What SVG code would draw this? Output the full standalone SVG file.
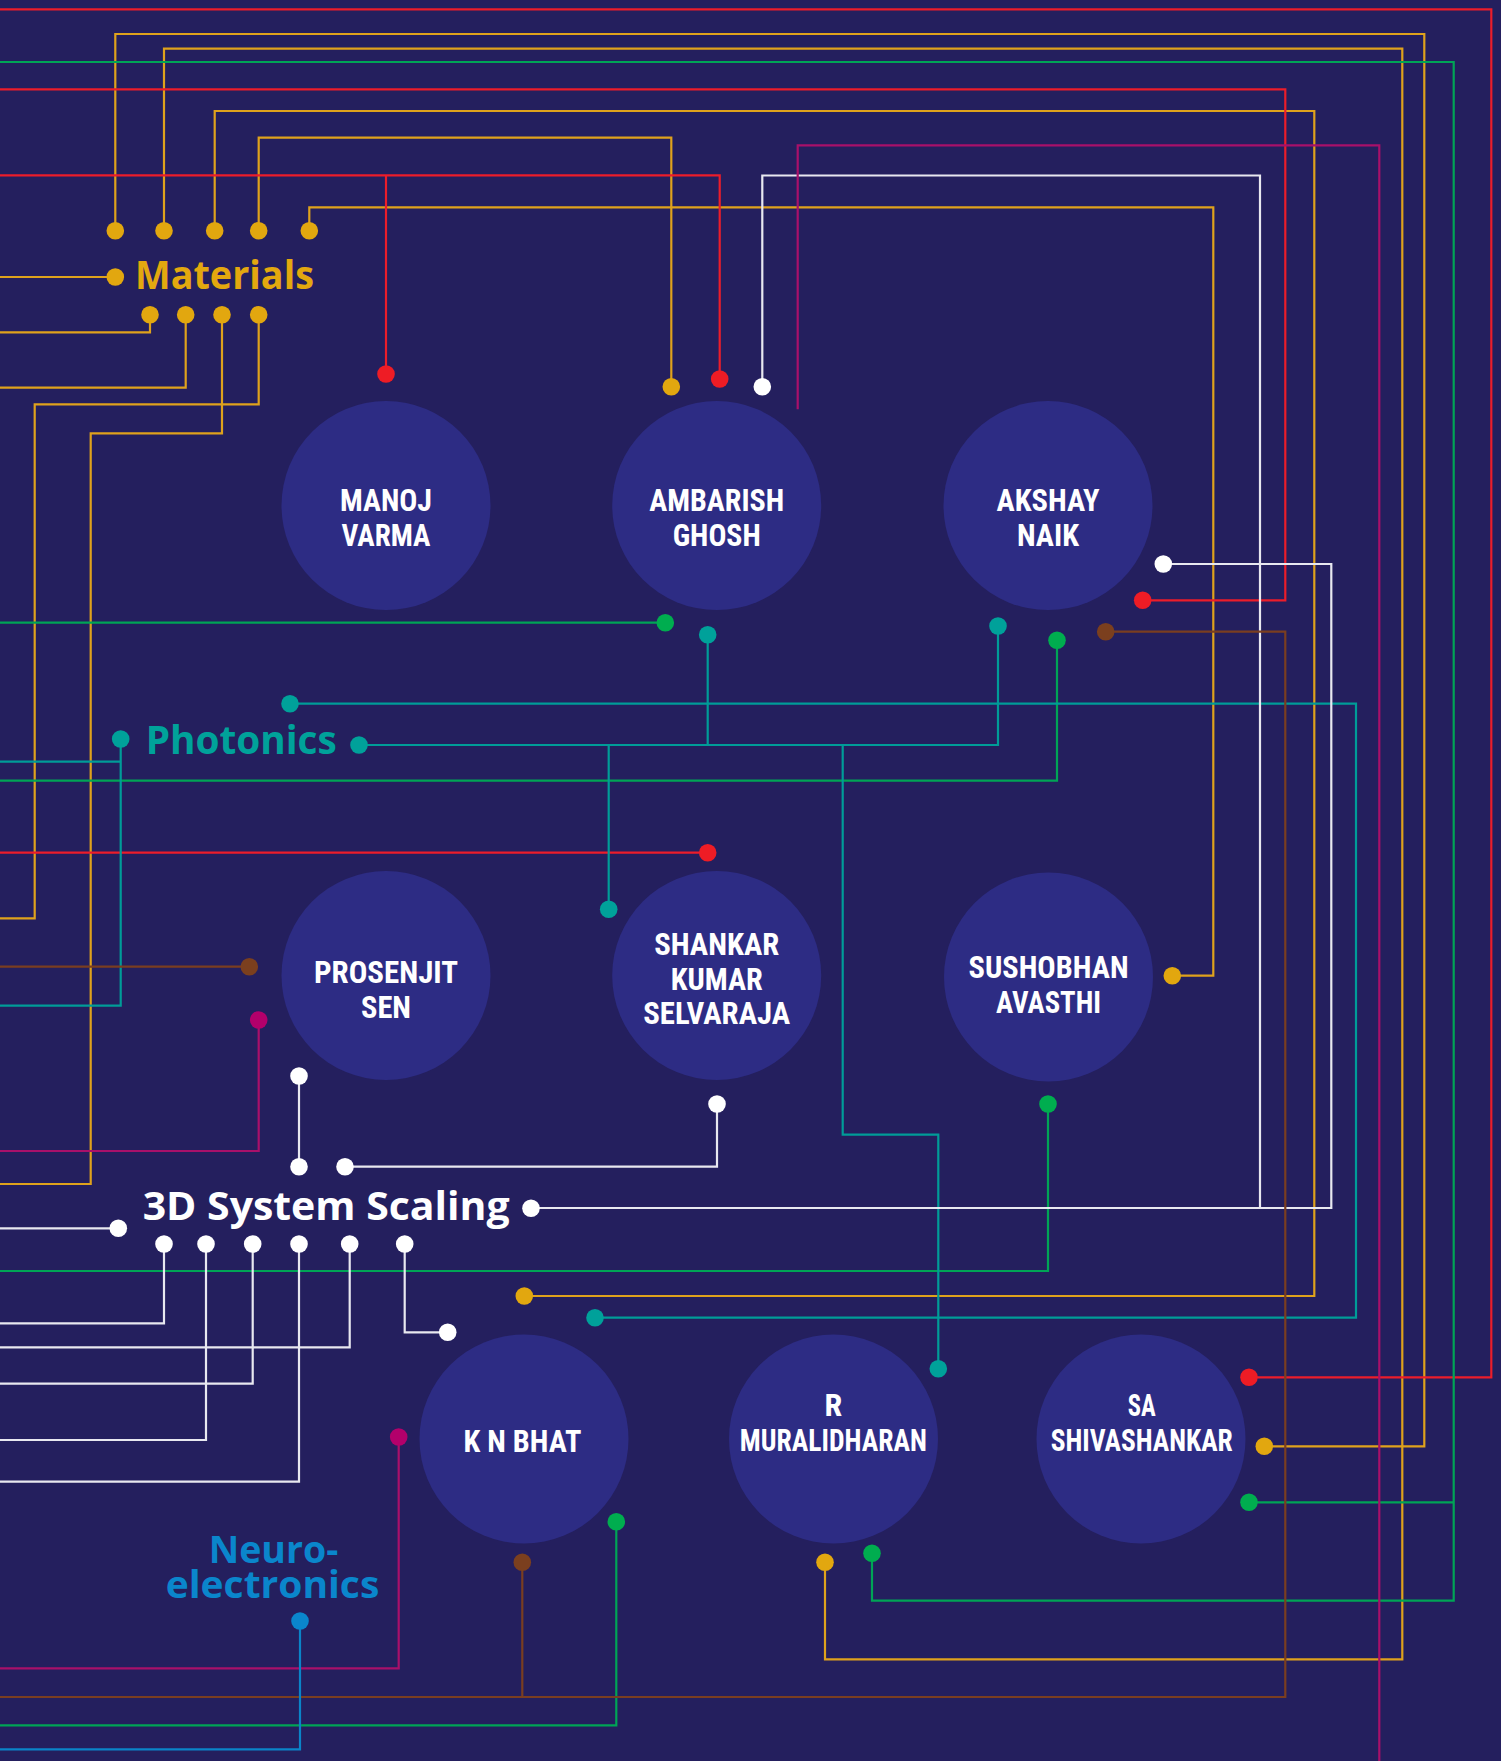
<svg xmlns="http://www.w3.org/2000/svg" width="1501" height="1761" viewBox="0 0 1501 1761">
<style>
.ln{fill:none;stroke-width:2.2;stroke-linejoin:miter}
.gold{stroke:#dfa21c}.red{stroke:#ec1d2a}.grn{stroke:#00a456}.teal{stroke:#009c98}.wht{stroke:#e8e8f0}.mag{stroke:#a8106a}.brn{stroke:#7a3e20}.blu{stroke:#0a84c8}
.dg{fill:#e2a70f}.dr{fill:#ee1c25}.dn{fill:#00ad4f}.dt{fill:#00a19a}.dw{fill:#ffffff}.dm{fill:#b3006b}.db{fill:#7b3f1e}.dl{fill:#0a86cc}
.node circle{fill:#2d2c84}
.name{font-family:"Liberation Sans Narrow","Roboto Condensed","Liberation Sans",Arial,sans-serif;font-weight:bold;font-size:32px;fill:#ffffff;text-anchor:middle}
.lab{font-family:"Open Sans","Noto Sans","Liberation Sans",sans-serif;font-weight:700;font-size:40px}
.lab2{font-family:"Open Sans","Noto Sans","Liberation Sans",sans-serif;font-weight:700;font-size:38px}
</style>
<rect x="0" y="0" width="1501" height="1761" fill="#241f5e"/>
<g id="connectors">
  <!-- gold -->
  <path class="ln gold" d="M115.3 230.7V34H1424.3V1446.3H1264.3"/>
  <path class="ln gold" d="M164 230.7V48.7H1402.3V1659.3H825V1562.3"/>
  <path class="ln gold" d="M214.7 230.7V111H1314.3V1296H524.3"/>
  <path class="ln gold" d="M258.7 230.7V137.7H671.3V386.7"/>
  <path class="ln gold" d="M309.3 230.7V207.3H1213.3V975.7H1172.3"/>
  <path class="ln gold" d="M0 277H115.3"/>
  <path class="ln gold" d="M150 314.7V332.3H0"/>
  <path class="ln gold" d="M185.7 314.7V387.7H0"/>
  <path class="ln gold" d="M258.7 314.7V404.3H34.7V918.3H0"/>
  <path class="ln gold" d="M222 314.7V433.3H90.7V1184H0"/>
  <!-- red -->
  <path class="ln red" d="M0 9.3H1491.3V1377.3H1249"/>
  <path class="ln red" d="M0 89.3H1285.3V600.3H1142.7"/>
  <path class="ln red" d="M0 175.3H719.7V379"/>
  <path class="ln red" d="M386 175.3V374"/>
  <path class="ln red" d="M0 852.7H707.7"/>
  <!-- green -->
  <path class="ln grn" d="M0 62H1453.7V1600.7H872V1553.3"/>
  <path class="ln grn" d="M1249 1502.3H1453.7"/>
  <path class="ln grn" d="M0 622.7H665.3"/>
  <path class="ln grn" d="M1057 640.3V780.7H0"/>
  <path class="ln grn" d="M1048 1104V1271H0"/>
  <path class="ln grn" d="M616.3 1521.7V1725.3H0"/>
  <!-- teal -->
  <path class="ln teal" d="M290 703.7H1356V1317.7H595"/>
  <path class="ln teal" d="M359 745H998V626"/>
  <path class="ln teal" d="M707.7 634.7V745"/>
  <path class="ln teal" d="M608.7 745V909.3"/>
  <path class="ln teal" d="M842.7 745V1134.7H938.3V1368.7"/>
  <path class="ln teal" d="M120.7 739V1005.7H0"/>
  <path class="ln teal" d="M0 761.7H120.7"/>
  <!-- white -->
  <path class="ln wht" d="M762.3 386.7V175.5H1260V1208"/>
  <path class="ln wht" d="M1163.3 564H1331.3V1208H531"/>
  <path class="ln wht" d="M299 1076V1166.7"/>
  <path class="ln wht" d="M345 1166.7H717V1104"/>
  <path class="ln wht" d="M118.3 1228.3H0"/>
  <path class="ln wht" d="M164 1244V1323.3H0"/>
  <path class="ln wht" d="M206 1244V1440H0"/>
  <path class="ln wht" d="M252.7 1244V1383.7H0"/>
  <path class="ln wht" d="M299 1244V1481.7H0"/>
  <path class="ln wht" d="M349.7 1244V1347.3H0"/>
  <path class="ln wht" d="M404.7 1244V1332.3H447.7"/>
  <!-- magenta -->
  <path class="ln mag" d="M797.7 409.3V145.3H1379.3V1761"/>
  <path class="ln mag" d="M258.7 1020V1151H0"/>
  <path class="ln mag" d="M398.7 1437V1668.3H0"/>
  <!-- brown -->
  <path class="ln brn" d="M1105.7 631.7H1285.3V1697H0"/>
  <path class="ln brn" d="M522.3 1562.3V1697"/>
  <path class="ln brn" d="M249.3 966.7H0"/>
  <!-- blue -->
  <path class="ln blu" d="M300 1621V1749.3H0"/>
  <!-- dots -->
  <g class="dg">
    <circle cx="115.3" cy="230.7" r="8.8"/><circle cx="164" cy="230.7" r="8.8"/><circle cx="214.7" cy="230.7" r="8.8"/><circle cx="258.7" cy="230.7" r="8.8"/><circle cx="309.3" cy="230.7" r="8.8"/>
    <circle cx="115.3" cy="277" r="8.8"/>
    <circle cx="150" cy="314.7" r="8.8"/><circle cx="185.7" cy="314.7" r="8.8"/><circle cx="222" cy="314.7" r="8.8"/><circle cx="258.7" cy="314.7" r="8.8"/>
    <circle cx="671.3" cy="386.7" r="8.8"/><circle cx="1172.3" cy="975.7" r="8.8"/><circle cx="524.3" cy="1296" r="8.8"/><circle cx="825" cy="1562.3" r="8.8"/><circle cx="1264.3" cy="1446.3" r="8.8"/>
  </g>
  <g class="dr">
    <circle cx="386" cy="374" r="8.8"/><circle cx="719.7" cy="379" r="8.8"/><circle cx="1142.7" cy="600.3" r="8.8"/><circle cx="707.7" cy="852.7" r="8.8"/><circle cx="1249" cy="1377.3" r="8.8"/>
  </g>
  <g class="dn">
    <circle cx="665.3" cy="622.7" r="8.8"/><circle cx="1057" cy="640.3" r="8.8"/><circle cx="1048" cy="1104" r="8.8"/><circle cx="616.3" cy="1521.7" r="8.8"/><circle cx="872" cy="1553.3" r="8.8"/><circle cx="1249" cy="1502.3" r="8.8"/>
  </g>
  <g class="dt">
    <circle cx="290" cy="703.7" r="8.8"/><circle cx="120.7" cy="739" r="8.8"/><circle cx="359" cy="745" r="8.8"/><circle cx="707.7" cy="634.7" r="8.8"/><circle cx="998" cy="626" r="8.8"/><circle cx="608.7" cy="909.3" r="8.8"/><circle cx="595" cy="1317.7" r="8.8"/><circle cx="938.3" cy="1368.7" r="8.8"/>
  </g>
  <g class="dw">
    <circle cx="762.3" cy="386.7" r="8.8"/><circle cx="1163.3" cy="564" r="8.8"/><circle cx="299" cy="1076" r="8.8"/><circle cx="299" cy="1166.7" r="8.8"/><circle cx="345" cy="1166.7" r="8.8"/><circle cx="717" cy="1104" r="8.8"/><circle cx="531" cy="1208.3" r="8.8"/><circle cx="118.3" cy="1228.3" r="8.8"/>
    <circle cx="164" cy="1244" r="8.8"/><circle cx="206" cy="1244" r="8.8"/><circle cx="252.7" cy="1244" r="8.8"/><circle cx="299" cy="1244" r="8.8"/><circle cx="349.7" cy="1244" r="8.8"/><circle cx="404.7" cy="1244" r="8.8"/><circle cx="447.7" cy="1332.3" r="8.8"/>
  </g>
  <g class="dm"><circle cx="258.7" cy="1020" r="8.8"/><circle cx="398.7" cy="1437" r="8.8"/></g>
  <g class="db"><circle cx="1105.7" cy="631.7" r="8.8"/><circle cx="249.3" cy="966.7" r="8.8"/><circle cx="522.3" cy="1562.3" r="8.8"/></g>
  <g class="dl"><circle cx="300" cy="1621" r="8.8"/></g>
</g>
<g id="label-materials"><text class="lab" x="135" y="288.7" fill="#e3a80f" textLength="179" lengthAdjust="spacingAndGlyphs">Materials</text></g>
<g id="label-photonics"><text class="lab" x="145.7" y="754.3" fill="#00a29a" textLength="191" lengthAdjust="spacingAndGlyphs">Photonics</text></g>
<g id="label-3d"><text class="lab" x="142.7" y="1220" fill="#ffffff" textLength="367" lengthAdjust="spacingAndGlyphs">3D System Scaling</text></g>
<g id="label-neuro"><text class="lab2" x="273.5" y="1563.3" fill="#0a86cc" text-anchor="middle" textLength="129.6" lengthAdjust="spacingAndGlyphs">Neuro-</text><text class="lab2" x="272.5" y="1598.3" fill="#0a86cc" text-anchor="middle" textLength="213.6" lengthAdjust="spacingAndGlyphs">electronics</text></g>

<g id="node-manoj" class="node"><circle cx="386" cy="505.6" r="104.5"/><text class="name"><tspan x="386" y="511" textLength="92" lengthAdjust="spacingAndGlyphs">MANOJ</tspan><tspan x="386" y="546" textLength="89" lengthAdjust="spacingAndGlyphs">VARMA</tspan></text></g>
<g id="node-ambarish" class="node"><circle cx="716.7" cy="505.6" r="104.5"/><text class="name"><tspan x="716.7" y="511" textLength="135" lengthAdjust="spacingAndGlyphs">AMBARISH</tspan><tspan x="716.7" y="546" textLength="88" lengthAdjust="spacingAndGlyphs">GHOSH</tspan></text></g>
<g id="node-akshay" class="node"><circle cx="1048" cy="505.6" r="104.5"/><text class="name"><tspan x="1048" y="511" textLength="103" lengthAdjust="spacingAndGlyphs">AKSHAY</tspan><tspan x="1048" y="546" textLength="62" lengthAdjust="spacingAndGlyphs">NAIK</tspan></text></g>
<g id="node-prosenjit" class="node"><circle cx="386" cy="975.5" r="104.5"/><text class="name"><tspan x="386" y="983.3" textLength="144" lengthAdjust="spacingAndGlyphs">PROSENJIT</tspan><tspan x="386" y="1018.3" textLength="50" lengthAdjust="spacingAndGlyphs">SEN</tspan></text></g>
<g id="node-shankar" class="node"><circle cx="716.7" cy="975.5" r="104.5"/><text class="name"><tspan x="716.7" y="955" textLength="125" lengthAdjust="spacingAndGlyphs">SHANKAR</tspan><tspan x="716.7" y="990" textLength="92" lengthAdjust="spacingAndGlyphs">KUMAR</tspan><tspan x="716.7" y="1024.3" textLength="147" lengthAdjust="spacingAndGlyphs">SELVARAJA</tspan></text></g>
<g id="node-sushobhan" class="node"><circle cx="1048.5" cy="977" r="104.5"/><text class="name"><tspan x="1048.5" y="978.3" textLength="160" lengthAdjust="spacingAndGlyphs">SUSHOBHAN</tspan><tspan x="1048.5" y="1013.3" textLength="105" lengthAdjust="spacingAndGlyphs">AVASTHI</tspan></text></g>
<g id="node-knbhat" class="node"><circle cx="524" cy="1439" r="104.5"/><text class="name"><tspan x="522.5" y="1452.3" textLength="118" lengthAdjust="spacingAndGlyphs">K N BHAT</tspan></text></g>
<g id="node-muralidharan" class="node"><circle cx="833.5" cy="1439" r="104.5"/><text class="name"><tspan x="833.3" y="1416">R</tspan><tspan x="833.3" y="1450.7" textLength="187" lengthAdjust="spacingAndGlyphs">MURALIDHARAN</tspan></text></g>
<g id="node-shivashankar" class="node"><circle cx="1141" cy="1439" r="104.5"/><text class="name"><tspan x="1141.7" y="1416" textLength="28" lengthAdjust="spacingAndGlyphs">SA</tspan><tspan x="1141.7" y="1450.7" textLength="182" lengthAdjust="spacingAndGlyphs">SHIVASHANKAR</tspan></text></g>
</svg>
